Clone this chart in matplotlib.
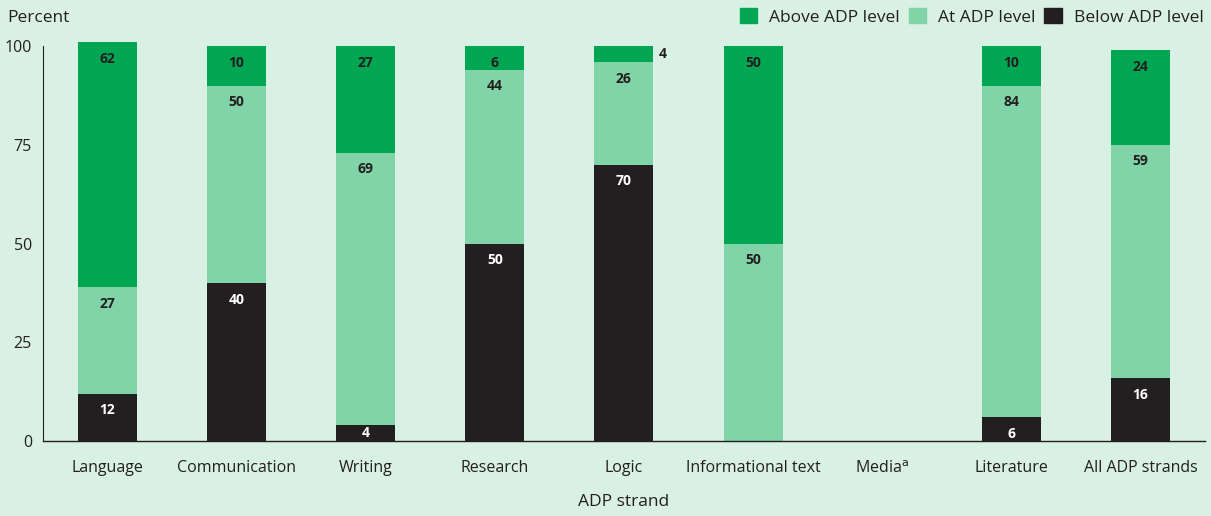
import numpy as np
import matplotlib.pyplot as plt
from matplotlib.patches import Patch

plt.rcParams['font.family'] = ['Open Sans', 'DejaVu Sans']

strands = ["Language", "Communication", "Writing", "Research", "Logic",
           "Informational text", "Media$^{\\mathrm{a}}$", "Literature", "All ADP strands"]
below = [12, 40, 4, 50, 70, 0, 0, 6, 16]
at = [27, 50, 69, 44, 26, 50, 0, 84, 59]
above = [62, 10, 27, 6, 4, 50, 0, 10, 24]

c_above = "#00a651"
c_at = "#80d4a8"
c_below = "#231f20"
bg = "#d9f0e4"

fig = plt.figure(figsize=(12.11, 5.16), dpi=100, facecolor=bg)
ax = fig.add_axes([0.0355, 0.1453, 0.9595, 0.7807], facecolor=bg)

x = np.arange(len(strands))
w = 0.457
below = np.array(below)
at = np.array(at)
above = np.array(above)

ax.bar(x, below, w, color=c_below)
ax.bar(x, at, w, bottom=below, color=c_at)
ax.bar(x, above, w, bottom=below + at, color=c_above)

# value labels near the top of each segment; thin top segments get theirs beside the bar
def label(vals, base, color, top=False):
    for xi, v, b in zip(x, vals, base):
        if v == 0:
            continue
        if top and v < 5:
            ax.text(xi + w / 2 + 0.04, b + v / 2, str(v), ha="left", va="center",
                    fontsize=10, fontweight="bold", color=c_below)
        elif v < 5:
            ax.text(xi, b + v / 2, str(v), ha="center", va="center",
                    fontsize=10, fontweight="bold", color=color)
        else:
            ax.annotate(str(v), (xi, b + v), xytext=(0, -12), textcoords="offset points",
                        ha="center", va="center", fontsize=10, fontweight="bold", color=color)

label(below, np.zeros_like(below), "white")
label(at, below, c_below)
label(above, below + at, c_below, top=True)

ax.set_xlim(-0.5, 8.5)
ax.set_ylim(0, 102)
ax.set_yticks([0, 25, 50, 75, 100])
ax.set_xticks(x)
ax.set_xticklabels(strands)
ax.tick_params(axis="both", length=0, labelsize=11.5, colors="#231f20")
ax.tick_params(axis="x", pad=14)
ax.tick_params(axis="y", pad=8)
for s in ["top", "right"]:
    ax.spines[s].set_visible(False)
ax.spines["left"].set_bounds(0, 100)
ax.spines["left"].set_color("#231f20")
ax.spines["bottom"].set_color("#231f20")
ax.spines["left"].set_linewidth(0.8)
ax.spines["bottom"].set_linewidth(1.0)

ax.set_xlabel("ADP strand", fontsize=12.5, color="#231f20", labelpad=12)
fig.text(0.006, 0.965, "Percent", fontsize=12.5, color="#231f20", ha="left", va="center")

handles = [Patch(color=c_above, label="Above ADP level"),
           Patch(color=c_at, label="At ADP level"),
           Patch(color=c_below, label="Below ADP level")]
fig.legend(handles=handles, loc="upper right", bbox_to_anchor=(1.007, 1.015), ncol=3,
           frameon=False, fontsize=12.5, handlelength=1.0, handleheight=1.0,
           handletextpad=0.7, columnspacing=0.5, labelcolor="#231f20")

fig.savefig("out.png", dpi=100, facecolor=bg)
